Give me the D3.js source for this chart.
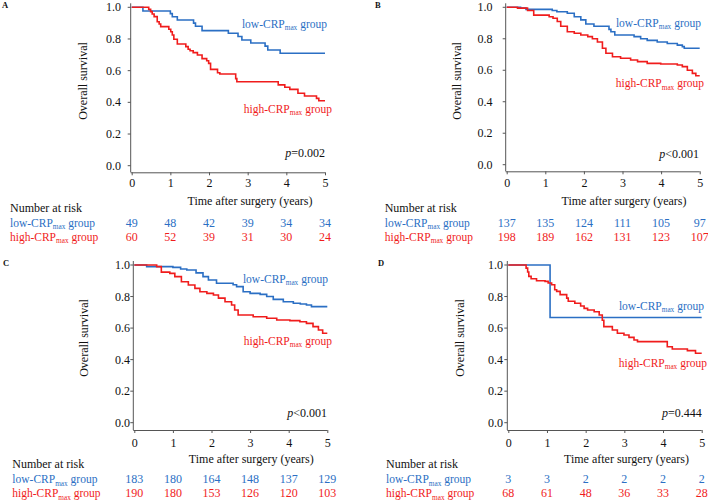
<!DOCTYPE html>
<html><head><meta charset="utf-8">
<script src="https://cdn.jsdelivr.net/npm/d3@7"></script>
<style>
html,body{margin:0;padding:0;background:#fff;}
svg text{font-family:"Liberation Serif","Times New Roman",serif;}
</style></head>
<body><svg id="c" width="708" height="501"></svg>
<script>
// ---------- data ----------
const years = [0,1,2,3,4,5];
const survTicks = [0,0.2,0.4,0.6,0.8,1.0];
const panelLetters = ["A","B","C","D"];
const pValues = ["=0.002","<0.001","<0.001","=0.444"];

const aLow = [[0,1],[0.29,0.977],[1.0,0.96],[1.05,0.94],[1.18,0.92],[1.6,0.9],[1.65,0.88],[1.82,0.853],[2.5,0.836],[2.75,0.816],[2.85,0.794],[3.08,0.775],[3.45,0.755],[3.52,0.73],[3.84,0.71]];
const aHigh = [[0,1],[0.44,0.987],[0.49,0.973],[0.53,0.958],[0.58,0.941],[0.66,0.909],[0.71,0.895],[0.75,0.878],[0.96,0.861],[1.01,0.846],[1.05,0.825],[1.09,0.798],[1.18,0.768],[1.40,0.752],[1.46,0.735],[1.51,0.726],[1.59,0.714],[1.70,0.699],[1.82,0.676],[1.94,0.663],[1.99,0.646],[2.04,0.608],[2.22,0.587],[2.28,0.579],[2.69,0.55],[2.72,0.53],[3.79,0.51],[3.96,0.495],[4.09,0.482],[4.3,0.457],[4.47,0.44],[4.78,0.425],[4.84,0.41]];

const bLow = [[0,1],[0.36,0.995],[0.5,0.987],[1.18,0.98],[1.3,0.972],[1.57,0.962],[1.75,0.94],[1.92,0.92],[2.05,0.894],[2.26,0.88],[2.65,0.86],[2.7,0.845],[2.8,0.824],[3.3,0.814],[3.47,0.80],[3.64,0.79],[3.9,0.78],[4.16,0.77],[4.42,0.76],[4.55,0.75],[4.6,0.74]];
const bHigh = [[0,1],[0.28,0.995],[0.54,0.98],[0.7,0.95],[1.1,0.94],[1.2,0.93],[1.31,0.91],[1.4,0.88],[1.57,0.845],[1.75,0.835],[1.92,0.824],[2.1,0.814],[2.22,0.80],[2.35,0.78],[2.48,0.74],[2.57,0.708],[2.74,0.686],[2.95,0.676],[3.21,0.665],[3.39,0.655],[3.64,0.644],[3.99,0.64],[4.42,0.633],[4.55,0.623],[4.68,0.60],[4.81,0.58],[4.9,0.565]];

const cLow = [[0,1],[0.32,0.99],[1.0,0.985],[1.2,0.975],[1.36,0.968],[1.6,0.95],[1.78,0.926],[1.92,0.905],[2.13,0.884],[2.56,0.875],[2.65,0.863],[2.82,0.83],[3.0,0.82],[3.26,0.814],[3.43,0.80],[3.6,0.782],[3.86,0.767],[4.12,0.757],[4.3,0.753],[4.46,0.746],[4.59,0.736]];
const cHigh = [[0,1],[0.58,0.99],[0.7,0.955],[0.92,0.947],[1.05,0.926],[1.22,0.894],[1.4,0.873],[1.57,0.852],[1.7,0.83],[1.88,0.82],[2.05,0.81],[2.18,0.79],[2.35,0.767],[2.52,0.746],[2.6,0.715],[2.69,0.683],[3.08,0.672],[3.43,0.662],[3.69,0.651],[4.03,0.647],[4.29,0.64],[4.46,0.63],[4.63,0.609],[4.77,0.588],[4.88,0.567]];

const dLow = [[0,1],[1.08,0.667]];
const dHigh = [[0,1],[0.46,0.98],[0.5,0.956],[0.53,0.928],[0.59,0.913],[0.73,0.90],[0.95,0.896],[1.03,0.886],[1.12,0.875],[1.2,0.843],[1.25,0.833],[1.34,0.812],[1.51,0.79],[1.55,0.77],[1.72,0.757],[1.87,0.74],[1.96,0.725],[2.05,0.715],[2.22,0.704],[2.35,0.683],[2.43,0.65],[2.47,0.609],[2.69,0.588],[2.82,0.567],[2.99,0.556],[3.12,0.541],[3.25,0.524],[3.34,0.514],[4.11,0.482],[4.24,0.467],[4.63,0.457],[4.84,0.44]];

const riskLowA = [49,48,42,39,34,34],  riskHighA = [60,52,39,31,30,24];
const riskLowB = [137,135,124,111,105,97], riskHighB = [198,189,162,131,123,107];
const riskLowC = [183,180,164,148,137,129], riskHighC = [190,180,153,126,120,103];
const riskLowD = [3,3,2,2,2,2], riskHighD = [68,61,48,36,33,28];

// ---------- layout ----------
const BLUE = "#2b6fc4", RED = "#f01c1c", AX = "#555", TXT = "#111";
const FS = 12, GFS = 11.5;
const layout = [
 {letter:[2,7.5], x0:131.7,x1:325, yTop:7.3,yBot:165.7, axisY:172.3, tickBase:186.7, yLab:[86.7,81], yTickEnd:121, title:[250,205], nar:[10,211.7,226.7,240.7], lowLab:[327,28], highLab:[332,113], p:[325,157]},
 {letter:[375,7.5], x0:506.7,x1:699.7, yTop:7.3,yBot:164.7, axisY:171.3, tickBase:186.7, yLab:[461,81], yTickEnd:492.5, title:[624,205], nar:[384.7,211.7,226.7,240.7], lowLab:[701,26.7], highLab:[704,87.3], p:[699,158]},
 {letter:[3,266], x0:134.3,x1:327.3, yTop:265,yBot:422.7, axisY:430, tickBase:446.7, yLab:[88.3,338], yTickEnd:130, title:[251.3,463.3], nar:[12.3,468.3,483.3,497.3], lowLab:[328,283], highLab:[332,345], p:[327,416.7]},
 {letter:[378,266], x0:508.3,x1:701.7, yTop:265,yBot:422.7, axisY:430, tickBase:446.7, yLab:[464,338], yTickEnd:503, title:[626.5,463.3], nar:[386,468.3,483.3,497.3], lowLab:[704,310], highLab:[707,366.7], p:[701.7,416.7]}
];
const series = [[aLow,aHigh],[bLow,bHigh],[cLow,cHigh],[dLow,dHigh]];
const risks = [[riskLowA,riskHighA],[riskLowB,riskHighB],[riskLowC,riskHighC],[riskLowD,riskHighD]];

const svg = d3.select("#c");

function groupLabel(g, x, y, color, prefix, anchor){
  const t = g.append("text").attr("x",x).attr("y",y).attr("fill",color)
    .attr("font-size",GFS).attr("text-anchor",anchor||"end");
  t.append("tspan").text(prefix+"-CRP");
  t.append("tspan").attr("font-size",7.3).attr("dy",2.2).text("max");
  t.append("tspan").attr("dy",-2.2).text(" group");
  return t;
}

layout.forEach((L,i)=>{
  const g = svg.append("g");
  const x = d3.scaleLinear().domain([0,5]).range([L.x0,L.x1]);
  const y = d3.scaleLinear().domain([0,1]).range([L.yBot,L.yTop]);

  g.append("text").attr("x",L.letter[0]).attr("y",L.letter[1]).attr("font-size",8.5)
    .attr("font-weight","bold").attr("fill","#111").text(panelLetters[i]);

  g.append("line").attr("x1",L.x0-1).attr("x2",L.x0-1).attr("y1",L.yTop-4).attr("y2",L.axisY)
    .attr("stroke",AX).attr("stroke-width",1);
  g.selectAll(".yt").data(survTicks).enter().append("line")
    .attr("x1",L.x0-4).attr("x2",L.x0-1).attr("y1",d=>y(d)).attr("y2",d=>y(d))
    .attr("stroke",AX);
  g.selectAll(".yl").data(survTicks).enter().append("text")
    .attr("x",L.yTickEnd).attr("y",d=>y(d)+4).attr("text-anchor","end")
    .attr("font-size",FS).attr("fill",TXT).text(d3.format(".1f"));

  const xa = d3.axisBottom(x).tickValues(years).tickSize(3).tickSizeOuter(0).tickFormat(d3.format("d"));
  const xg = g.append("g").attr("transform",`translate(0,${L.axisY})`).call(xa);
  xg.select(".domain").attr("stroke",AX).attr("d",`M${L.x0-1},0.5H${L.x1}`);
  xg.selectAll(".tick line").attr("stroke",AX);
  xg.selectAll(".tick text").attr("font-size",FS).attr("fill",TXT)
    .attr("font-family","'Liberation Serif',serif").attr("dy",null).attr("y",L.tickBase-L.axisY);

  g.append("text").attr("transform",`translate(${L.yLab[0]},${L.yLab[1]}) rotate(-90)`)
    .attr("text-anchor","middle").attr("font-size",FS).attr("fill",TXT).text("Overall survival");
  g.append("text").attr("x",L.title[0]).attr("y",L.title[1]).attr("text-anchor","middle")
    .attr("font-size",FS).attr("fill",TXT).text("Time after surgery (years)");

  const line = d3.line().x(d=>x(d[0])).y(d=>y(d[1])).curve(d3.curveStepAfter);
  const [low, high] = series[i];
  [[low,BLUE],[high,RED]].forEach(([s,col])=>{
    const pts = s.concat([[5, s[s.length-1][1]]]);
    g.append("path").attr("d",line(pts)).attr("fill","none").attr("stroke",col).attr("stroke-width",1.6);
  });

  groupLabel(g, L.lowLab[0], L.lowLab[1], BLUE, "low");
  groupLabel(g, L.highLab[0], L.highLab[1], RED, "high");

  const pt = g.append("text").attr("x",L.p[0]).attr("y",L.p[1]).attr("text-anchor","end")
    .attr("font-size",FS).attr("fill",TXT);
  pt.append("tspan").attr("font-style","italic").text("p");
  pt.append("tspan").text(pValues[i]);

  g.append("text").attr("x",L.nar[0]).attr("y",L.nar[1]).attr("font-size",FS).attr("fill",TXT).text("Number at risk");
  groupLabel(g, L.nar[0], L.nar[2], BLUE, "low", "start");
  groupLabel(g, L.nar[0], L.nar[3], RED, "high", "start");
  const [rl, rh] = risks[i];
  g.selectAll(".rl").data(rl).enter().append("text")
    .attr("x",(d,j)=>x(years[j])).attr("y",L.nar[2]).attr("text-anchor","middle")
    .attr("font-size",FS).attr("fill",BLUE).text(d=>d);
  g.selectAll(".rh").data(rh).enter().append("text")
    .attr("x",(d,j)=>x(years[j])).attr("y",L.nar[3]).attr("text-anchor","middle")
    .attr("font-size",FS).attr("fill",RED).text(d=>d);
});
</script></body></html>
